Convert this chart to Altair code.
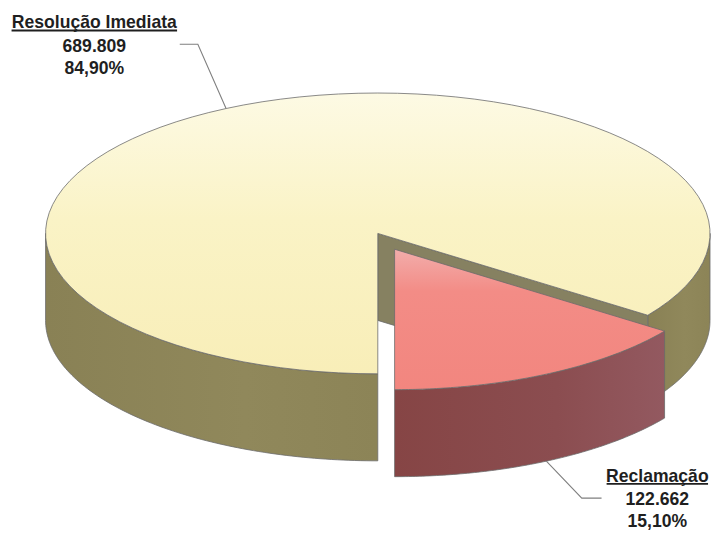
import altair as alt
import pandas as pd

# ---------------- data ----------------
categories = ["Resolução Imediata", "Reclamação"]
values = [689809, 122662]

# ---------------- layout (page pixels) ----------------
CX, CY = 382, 233          # pie centre (top face)
RX, RY = 336, 142          # ellipse radii of the top face
DEPTH = 88                 # thickness of the pie
N = 90                     # points per arc
EXPLODE = {"Reclamação": (17, 16)}
LABELS = {
    "Resolução Imediata": dict(x=95.3, y=25.5, ul=83.7, elbow=(200, 41.7), end=(181.7, 41.7)),
    "Reclamação": dict(x=664.7, y=484.0, ul=51.3, elbow=(588.3, 500.7), end=(608.3, 500.7)),
}
LINE_OFFSETS = [0, 24, 46]

# ---------------- styles ----------------
def lin(stops, horizontal=False):
    return alt.Gradient(
        gradient="linear",
        stops=[alt.GradientStop(offset=o, color=c) for o, c in stops],
        x1=0, y1=0, x2=1 if horizontal else 0, y2=0 if horizontal else 1,
    )

STYLE = {
    "Resolução Imediata": dict(
        top=lin([(0, "#FDFAE4"), (0.45, "#FAF3C6"), (1, "#F8EEB8")]),
        wall=lin([(0, "#898155"), (0.6, "#90885B"), (1, "#8C8457")], True),
        face="#868161",
    ),
    "Reclamação": dict(
        top=lin([(0, "#F2ADAB"), (0.3, "#F38C86"), (1, "#F2867F")]),
        wall=lin([(0, "#864545"), (0.6, "#8B4D50"), (1, "#935960")], True),
        face="#7a3c3c",
    ),
}
EDGE = "#6a6a6a"
TEXT = "#1f1f1f"
FONT = "Liberation Sans"

src = pd.DataFrame({"cat": categories, "value": values, "idx": list(range(len(categories)))})

xs = alt.Scale(domain=[8, 712], nice=False, zero=False)
ys = alt.Scale(domain=[8, 525], nice=False, zero=False, reverse=True)


def base(cat):
    dx, dy = EXPLODE.get(cat, (0, 0))
    return (
        alt.Chart(src)
        .transform_joinaggregate(total="sum(value)")
        .transform_window(cum="sum(value)", sort=[alt.SortField("idx")], frame=[None, 0])
        .transform_calculate(
            a0="PI + 2*PI*(datum.cum - datum.value)/datum.total",
            a1="PI + 2*PI*datum.cum/datum.total",
            cx=f"{CX} + {dx}",
            cy=f"{CY} + {dy}",
        )
        .transform_filter(alt.datum.cat == cat)
    )


def enc(ch, extra=None):
    e = dict(
        x=alt.X("px:Q", scale=xs, axis=None),
        y=alt.Y("py:Q", scale=ys, axis=None),
        order=alt.Order("seq:Q"),
    )
    if extra:
        e.update(extra)
    return ch.encode(**e)


layers = []
draw_order = [c for c in categories if c not in EXPLODE] + [c for c in categories if c in EXPLODE]
for cat in draw_order:
    st = STYLE[cat]
    # outer wall (front-visible part only)
    wall = (
        base(cat)
        .transform_calculate(kk="[0, 1]")
        .transform_flatten(["kk"])
        .transform_calculate(
            lo="max(datum.a0, PI/2 + 2*PI*datum.kk)",
            hi="min(datum.a1, 3*PI/2 + 2*PI*datum.kk)",
        )
        .transform_filter("datum.hi > datum.lo + 0.0001")
        .transform_calculate(seq=f"sequence(0, {2 * N + 3})")
        .transform_flatten(["seq"])
        .transform_calculate(
            bot=f"datum.seq > {N} && datum.seq <= {2 * N + 1}",
            t=f"datum.seq <= {N} ? datum.seq/{N} : (datum.seq <= {2 * N + 1} ? ({2 * N + 1} - datum.seq)/{N} : 0)",
        )
        .transform_calculate(ang="datum.lo + (datum.hi - datum.lo)*datum.t")
        .transform_calculate(
            px=f"datum.cx + {RX}*sin(datum.ang)",
            py=f"datum.cy - {RY}*cos(datum.ang) + (datum.bot ? {DEPTH} : 0)",
        )
        .mark_line(fill=st["wall"], stroke=EDGE, strokeWidth=0.8, strokeJoin="round")
    )
    layers.append(enc(wall, {"detail": alt.Detail("kk:N")}))

    # radial cut faces that face the viewer
    face = (
        base(cat)
        .transform_calculate(which="[0, 1]")
        .transform_flatten(["which"])
        .transform_calculate(
            fang="datum.which == 0 ? datum.a0 : datum.a1",
            vis="datum.which == 0 ? sin(datum.a0) < -0.001 : sin(datum.a1) > 0.001",
        )
        .transform_filter("datum.vis")
        .transform_calculate(seq="sequence(0, 5)")
        .transform_flatten(["seq"])
        .transform_calculate(
            rim="datum.seq == 1 || datum.seq == 2",
            low="datum.seq == 2 || datum.seq == 3",
        )
        .transform_calculate(
            px=f"datum.rim ? datum.cx + {RX}*sin(datum.fang) : datum.cx",
            py=f"(datum.rim ? datum.cy - {RY}*cos(datum.fang) : datum.cy) + (datum.low ? {DEPTH} : 0)",
        )
        .mark_line(fill=st["face"], stroke=EDGE, strokeWidth=0.8, strokeJoin="round")
    )
    layers.append(enc(face, {"detail": alt.Detail("which:N")}))

    # top face
    top = (
        base(cat)
        .transform_calculate(seq=f"sequence(0, {N + 3})")
        .transform_flatten(["seq"])
        .transform_calculate(
            edge=f"datum.seq >= 1 && datum.seq <= {N + 1}",
            t=f"clamp((datum.seq - 1)/{N}, 0, 1)",
        )
        .transform_calculate(ang="datum.a0 + (datum.a1 - datum.a0)*datum.t")
        .transform_calculate(
            px=f"datum.edge ? datum.cx + {RX}*sin(datum.ang) : datum.cx",
            py=f"datum.edge ? datum.cy - {RY}*cos(datum.ang) : datum.cy",
        )
        .mark_line(fill=st["top"], stroke=EDGE, strokeWidth=0.8, strokeJoin="round")
    )
    layers.append(enc(top))

# labels, underlines and leader lines
for cat in categories:
    L = LABELS[cat]
    leader = (
        base(cat)
        .transform_calculate(seq="sequence(0, 3)")
        .transform_flatten(["seq"])
        .transform_calculate(mid="(datum.a0 + datum.a1)/2")
        .transform_calculate(
            px=f"datum.seq == 0 ? datum.cx + {RX}*sin(datum.mid) : (datum.seq == 1 ? {L['elbow'][0]} : {L['end'][0]})",
            py=f"datum.seq == 0 ? datum.cy - {RY}*cos(datum.mid) + (cos(datum.mid) < 0 ? {DEPTH} : 0)"
               f" : (datum.seq == 1 ? {L['elbow'][1]} : {L['end'][1]})",
        )
        .mark_line(stroke="#7f7f7f", strokeWidth=1.1)
    )
    layers.append(enc(leader))

    txt = (
        base(cat)
        .transform_calculate(
            txt="[datum.cat, replace(format(datum.value, ','), ',', '.'), "
                "replace(format(datum.value/datum.total, '.2%'), '.', ',')]",
            li=str(LINE_OFFSETS),
        )
        .transform_flatten(["txt", "li"])
        .transform_calculate(px=f"{L['x']}", py=f"{L['y']} + datum.li")
        .mark_text(font=FONT, fontSize=17.8, fontWeight="bold", color=TEXT,
                   align="center", baseline="alphabetic")
        .encode(
            x=alt.X("px:Q", scale=xs, axis=None),
            y=alt.Y("py:Q", scale=ys, axis=None),
            text="txt:N",
        )
    )
    layers.append(txt)

    ul = (
        base(cat)
        .transform_calculate(px=f"{L['x']} - {L['ul']}", px2=f"{L['x']} + {L['ul']}", py=f"{L['y']} + 2.3")
        .mark_rule(color=TEXT, strokeWidth=1.9)
        .encode(
            x=alt.X("px:Q", scale=xs, axis=None),
            x2="px2:Q",
            y=alt.Y("py:Q", scale=ys, axis=None),
        )
    )
    layers.append(ul)

chart = (
    alt.layer(*layers)
    .properties(
        width=704,
        height=517,
        padding={"left": 0, "top": 0, "right": 8, "bottom": 8},
        autosize=alt.AutoSizeParams(type="none"),
        background="white",
    )
    .configure_view(stroke=None)
)

chart.save("out.html", embed_options={"renderer": "svg", "actions": False})
